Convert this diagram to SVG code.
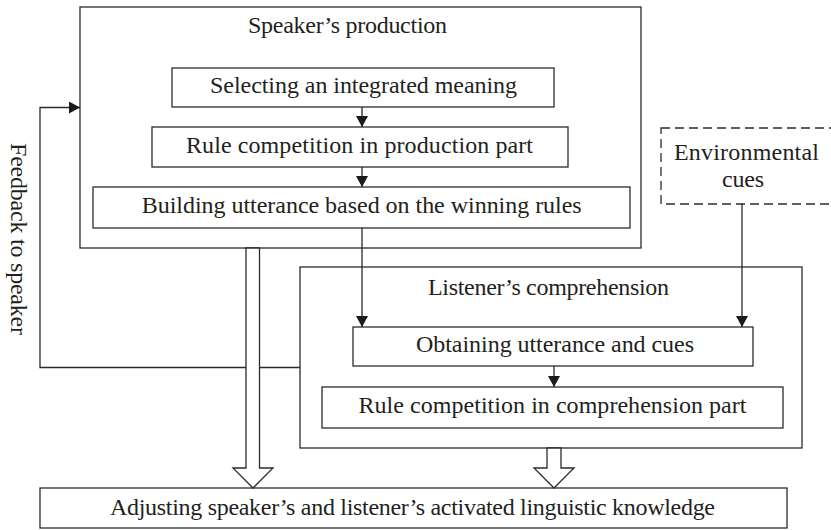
<svg xmlns="http://www.w3.org/2000/svg" width="831" height="530" viewBox="0 0 831 530">
<style>
.box{fill:#fff;stroke:#2b2b2b;stroke-width:1.3}
.dash{fill:#fff;stroke:#2b2b2b;stroke-width:1.3;stroke-dasharray:9 5}
.ln{fill:none;stroke:#2b2b2b;stroke-width:1.3}
.hol{fill:#fff;stroke:#2b2b2b;stroke-width:1.3;stroke-linejoin:miter}
text{font-family:"Liberation Serif","Times New Roman",serif;font-size:24px;fill:#231f20;text-anchor:middle}
</style>
<defs>
<marker id="ah" markerUnits="userSpaceOnUse" markerWidth="11" markerHeight="12" refX="11" refY="6" orient="auto">
<path d="M0,0 L11,6 L0,12 Z" fill="#1a1a1a"/>
</marker>
</defs>
<rect width="831" height="530" fill="#fff"/>
<g id="speaker">
<rect class="box" x="80" y="7" width="561" height="241"/>
<text x="347.5" y="33" textLength="199" lengthAdjust="spacing">Speaker’s production</text>
</g>
<g id="select">
<rect class="box" x="172" y="68" width="382" height="39"/>
<text x="363.5" y="93" textLength="307" lengthAdjust="spacing">Selecting an integrated meaning</text>
</g>
<g id="ruleprod">
<rect class="box" x="152" y="127" width="416" height="40"/>
<text x="359.5" y="153" textLength="347" lengthAdjust="spacing">Rule competition in production part</text>
</g>
<g id="building">
<rect class="box" x="93" y="187" width="537" height="41"/>
<text x="361.7" y="213" textLength="440" lengthAdjust="spacing">Building utterance based on the winning rules</text>
</g>
<g id="env">
<rect class="dash" x="661" y="128" width="200" height="76"/>
<text x="746.5" y="160" textLength="145" lengthAdjust="spacing">Environmental</text>
<text x="743" y="187" textLength="42" lengthAdjust="spacing">cues</text>
</g>
<g id="listener">
<rect class="box" x="300" y="267" width="502" height="181"/>
<text x="548.5" y="295" textLength="241" lengthAdjust="spacing">Listener’s comprehension</text>
</g>
<g id="obtain">
<rect class="box" x="353" y="327" width="400" height="39"/>
<text x="555" y="352" textLength="278" lengthAdjust="spacing">Obtaining utterance and cues</text>
</g>
<g id="rulecomp">
<rect class="box" x="322" y="387" width="461" height="41"/>
<text x="552.5" y="413" textLength="388" lengthAdjust="spacing">Rule competition in comprehension part</text>
</g>
<g id="adjust">
<rect class="box" x="40" y="488" width="747" height="40"/>
<text x="412.5" y="515" textLength="605" lengthAdjust="spacing">Adjusting speaker’s and listener’s activated linguistic knowledge</text>
</g>
<g id="connectors">
<line class="ln" x1="362" y1="107" x2="362" y2="127" marker-end="url(#ah)"/>
<line class="ln" x1="362" y1="167" x2="362" y2="187" marker-end="url(#ah)"/>
<line class="ln" x1="362" y1="228" x2="362" y2="327" marker-end="url(#ah)"/>
<line class="ln" x1="742" y1="204" x2="742" y2="327" marker-end="url(#ah)"/>
<line class="ln" x1="554" y1="366" x2="554" y2="387" marker-end="url(#ah)"/>
<polyline class="ln" points="300,367.5 40,367.5 40,107.5 80,107.5" marker-end="url(#ah)"/>
<polygon class="hol" points="246,248 259.5,248 259.5,468 273,468 253,488 233,468 246,468"/>
<polygon class="hol" points="547,448 561,448 561,468 574,468 554,488 534,468 547,468"/>
</g>
<g id="feedback-label">
<text transform="translate(10.5,239) rotate(90)" x="0" y="0" textLength="192" lengthAdjust="spacing">Feedback to speaker</text>
</g>
</svg>
